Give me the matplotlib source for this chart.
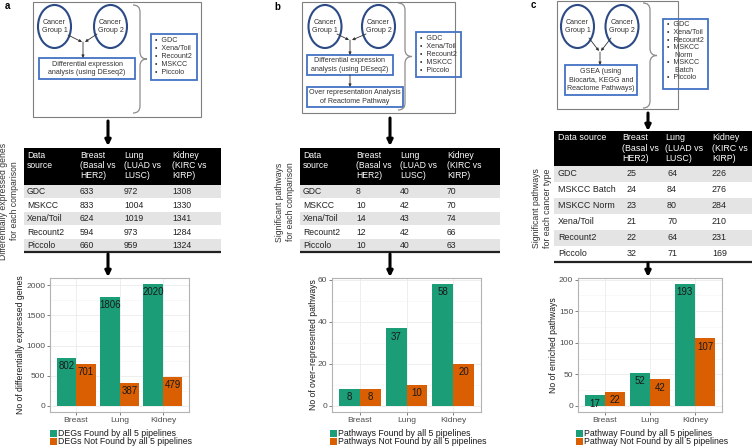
import numpy as np
import matplotlib.pyplot as plt
from matplotlib.patches import Rectangle, Ellipse, PathPatch
from matplotlib.path import Path

plt.rcParams['font.family'] = ['Liberation Sans', 'DejaVu Sans']

GREEN = '#1b9e77'
ORANGE = '#d95f02'

# ---- data ----
cancers = ['Breast', 'Lung', 'Kidney']
header_cols = ['Breast\n(Basal vs\nHER2)', 'Lung\n(LUAD vs\nLUSC)', 'Kidney\n(KIRC vs\nKIRP)']

ab_pipelines = ['GDC', 'Xena/Toil', 'Recount2', 'MSKCC', 'Piccolo']
c_pipelines = ['GDC', 'Xena/Toil', 'Recount2', 'MSKCC\n    Norm', 'MSKCC\n    Batch', 'Piccolo']

a_sources = ['GDC', 'MSKCC', 'Xena/Toil', 'Recount2', 'Piccolo']
a_breast = [633, 833, 624, 594, 660]
a_lung = [972, 1004, 1019, 973, 959]
a_kidney = [1308, 1330, 1341, 1284, 1324]
a_found = [802, 1806, 2020]
a_not_found = [701, 387, 479]

b_sources = ['GDC', 'MSKCC', 'Xena/Toil', 'Recount2', 'Piccolo']
b_breast = [8, 10, 14, 12, 10]
b_lung = [40, 42, 43, 42, 40]
b_kidney = [70, 70, 74, 66, 63]
b_found = [8, 37, 58]
b_not_found = [8, 10, 20]

c_sources = ['GDC', 'MSKCC Batch', 'MSKCC Norm', 'Xena/Toil', 'Recount2', 'Piccolo']
c_breast = [25, 24, 23, 21, 22, 32]
c_lung = [64, 84, 80, 70, 64, 71]
c_kidney = [226, 276, 284, 210, 231, 169]
c_found = [17, 52, 193]
c_not_found = [22, 42, 107]

W, H = 755, 448
fig = plt.figure(figsize=(W / 100, H / 100), dpi=100)
ov = fig.add_axes([0, 0, 1, 1])
ov.set_xlim(0, W)
ov.set_ylim(H, 0)
ov.axis('off')

FLOW_FS = 5.1
BLUE_BOX = '#4472c4'
NAVY = '#2c4a85'


def rect(x0, y0, x1, y1, ec, lw=1.0, fc='none'):
    ov.add_patch(Rectangle((x0, y0), x1 - x0, y1 - y0, fc=fc, ec=ec, lw=lw))


def ellipse(cx, cy, text):
    ov.add_patch(Ellipse((cx, cy), 33, 43, fc='white', ec=NAVY, lw=1.5))
    ov.text(cx, cy, text, ha='center', va='center', fontsize=FLOW_FS,
            color='#333333', linespacing=1.3)


def small_arrow(x0, y0, x1, y1):
    ov.annotate('', xy=(x1, y1), xytext=(x0, y0),
                arrowprops=dict(arrowstyle='-|>', color='#333333', lw=0.6,
                                mutation_scale=4, shrinkA=0, shrinkB=0))


def big_arrow(x, y0, y1):
    ov.annotate('', xy=(x, y1), xytext=(x, y0),
                arrowprops=dict(arrowstyle='-|>', color='black', lw=2.2,
                                mutation_scale=8, shrinkA=0, shrinkB=0))


def brace(x, y0, y1, w, color='#8c8c8c'):
    ym = (y0 + y1) / 2
    xm = x + w / 2
    r = w / 2
    verts = [(x, y0), (xm, y0), (xm, y0 + r), (xm, ym - r), (xm, ym),
             (x + w, ym), (xm, ym), (xm, ym + r), (xm, y1 - r), (xm, y1), (x, y1)]
    codes = [Path.MOVETO, Path.CURVE3, Path.CURVE3, Path.LINETO, Path.CURVE3,
             Path.CURVE3, Path.CURVE3, Path.CURVE3, Path.LINETO, Path.CURVE3, Path.CURVE3]
    ov.add_patch(PathPatch(Path(verts, codes), fc='none', ec=color, lw=0.9))


def pipeline_list(x0, y0, x1, y1, items, y_first, step):
    rect(x0, y0, x1, y1, BLUE_BOX, lw=1.3)
    y = y_first
    for it in items:
        ov.text(x0 + 4, y, '•  ' + it, ha='left', va='top', fontsize=FLOW_FS,
                color='#333333', linespacing=1.2)
        y += step * (it.count('\n') + 1)


def table(x0, x1, yh0, yh1, row_h, sources, cols, col_x, val_x, first_header, head_pad, fs=6.2):
    rect(x0, yh0, x1, yh1, 'black', lw=0, fc='black')
    ov.text(col_x[0], yh0 + head_pad, first_header, ha='left', va='top', color='white',
            fontsize=fs, linespacing=1.2)
    for cx, hd in zip(col_x[1:], header_cols):
        ov.text(cx, yh0 + head_pad, hd, ha='left', va='top', color='white',
                fontsize=fs, linespacing=1.2)
    for i, src in enumerate(sources):
        yt = yh1 + i * row_h
        rect(x0, yt, x1, yt + row_h, 'none', lw=0, fc='#e4e4e4' if i % 2 == 0 else 'white')
        yc = yt + row_h / 2
        ov.text(col_x[0], yc, src, ha='left', va='center', fontsize=fs, color='#222222')
        for vx, col in zip(val_x, cols):
            ov.text(vx, yc, str(col[i]), ha='left', va='center', fontsize=fs, color='#222222')
    yb = yh1 + len(sources) * row_h
    ov.plot([x0, x1], [yb, yb], color='#222222', lw=1.6, solid_capstyle='butt')


def bars(x0, x1, found, not_found, step, minor, ylabel, ylab_x, leg_x, leg_labels):
    y0, y1 = 278, 412
    ax = fig.add_axes([x0 / W, 1 - y1 / H, (x1 - x0) / W, (y1 - y0) / H])
    idx = np.arange(1, len(cancers) + 1)
    ax.bar(idx - 0.225, found, 0.45, color=GREEN, zorder=2)
    ax.bar(idx + 0.225, not_found, 0.45, color=ORANGE, zorder=2)
    for xi, v in zip(idx - 0.225, found):
        ax.annotate(str(v), (xi, v), xytext=(0, -6), textcoords='offset points',
                    ha='center', va='center', fontsize=7, color='#1a1a1a', zorder=3)
    for xi, v in zip(idx + 0.225, not_found):
        ax.annotate(str(v), (xi, v), xytext=(0, -6), textcoords='offset points',
                    ha='center', va='center', fontsize=7, color='#1a1a1a', zorder=3)
    top = max(max(found), max(not_found))
    ax.set_xlim(0.4, 3.6)
    ax.set_ylim(-0.05 * top, 1.05 * top)
    ax.set_xticks(idx)
    ax.set_xticklabels(cancers)
    ax.set_yticks(np.arange(0, 1.05 * top, step))
    ax.set_yticks(np.arange(minor, 1.05 * top, step), minor=True)
    ax.grid(which='major', color='#ebebeb', lw=0.6)
    ax.grid(which='minor', axis='y', color='#f4f4f4', lw=0.4)
    ax.set_axisbelow(True)
    ax.tick_params(which='major', length=2, width=0.5, color='#4d4d4d',
                   labelsize=6.1, labelcolor='#4d4d4d', pad=1.5)
    ax.tick_params(which='minor', length=0)
    for s in ax.spines.values():
        s.set_color('#b3b3b3')
        s.set_linewidth(0.8)
    ov.text(ylab_x, (y0 + y1) / 2, ylabel, rotation=90, ha='center', va='center',
            fontsize=6.2, color='#1a1a1a')
    for k, (lab, colr) in enumerate(zip(leg_labels, [GREEN, ORANGE])):
        yk = 430 + k * 7.7
        rect(leg_x, yk, leg_x + 7, yk + 7.5, 'none', lw=0, fc=colr)
        ov.text(leg_x + 8.5, yk + 4, lab, ha='left', va='center', fontsize=6.3, color='#1a1a1a')
    return ax


# ---------------- panel a ----------------
ov.text(7, 6, 'a', fontsize=7, fontweight='bold', ha='center', va='center')
rect(33, 2, 201, 117, '#7f7f7f', lw=0.8)
small_arrow(68, 35, 82, 42)
small_arrow(97, 34, 85, 42)
small_arrow(83, 42, 83, 58)
ellipse(54.5, 26.5, 'Cancer\nGroup 1')
ellipse(110.5, 26.5, 'Cancer\nGroup 2')
rect(39, 58, 135, 79, BLUE_BOX, lw=1.3)
ov.text(87, 68.5, 'Differential expression\nanalysis (using DEseq2)', ha='center', va='center',
        fontsize=FLOW_FS, color='#333333', linespacing=1.3)
brace(133, 5, 113, 14)
pipeline_list(151, 34, 197, 80, ab_pipelines, 37.5, 8)
big_arrow(108, 121, 146)
table(24, 221, 148, 185, 13.5, a_sources, [a_breast, a_lung, a_kidney],
      [27, 80, 124, 172], [80, 124, 172], 'Data\nsource', 2.5)
ov.text(9, 201, 'Differentially expressed genes\nfor each comparison', rotation=90,
        ha='center', va='center', fontsize=6.2, color='#333333', linespacing=1.15)
big_arrow(108, 254, 277)
bars(50, 189, a_found, a_not_found, 500, 250, 'No of differentially expressed genes', 20.5, 50,
     ['DEGs Found by all 5 pipelines', 'DEGs Not Found by all 5 pipelines'])

# ---------------- panel b ----------------
ov.text(277, 7, 'b', fontsize=7, fontweight='bold', ha='center', va='center')
rect(302, 2, 455, 113, '#7f7f7f', lw=0.8)
small_arrow(337, 34, 349, 40)
small_arrow(366, 34, 352, 40)
small_arrow(350, 40, 350, 55)
small_arrow(350, 75, 350, 87)
ellipse(325, 26.5, 'Cancer\nGroup 1')
ellipse(378.5, 26.5, 'Cancer\nGroup 2')
rect(307, 55, 393, 75, BLUE_BOX, lw=1.3)
ov.text(350, 65, 'Differential expression\nanalysis (using DEseq2)', ha='center', va='center',
        fontsize=FLOW_FS, color='#333333', linespacing=1.3)
rect(307, 87, 403, 107, BLUE_BOX, lw=1.3)
ov.text(355, 97, 'Over representation Analysis\nof Reactome Pathway', ha='center', va='center',
        fontsize=FLOW_FS, color='#333333', linespacing=1.3)
brace(398, 3, 110, 14)
pipeline_list(416, 32, 461, 77, ab_pipelines, 35.5, 8)
big_arrow(390, 118, 146)
table(300, 500, 148, 185, 13.5, b_sources, [b_breast, b_lung, b_kidney],
      [303, 356, 400, 447], [356, 400, 447], 'Data\nsource', 2.5)
ov.text(285, 202, 'Significant pathways\nfor each comparison', rotation=90,
        ha='center', va='center', fontsize=6.2, color='#333333', linespacing=1.15)
big_arrow(390, 254, 277)
bars(332, 481, b_found, b_not_found, 20, 10, 'No of over\u2212represented pathways', 313, 330,
     ['Pathways Found by all 5 pipelines', 'Pathways Not Found by all 5 pipelines'])

# ---------------- panel c ----------------
ov.text(533, 5, 'c', fontsize=7, fontweight='bold', ha='center', va='center')
rect(557, 1, 678, 109, '#7f7f7f', lw=0.8)
small_arrow(589, 38, 599, 51)
small_arrow(611, 38, 601, 51)
small_arrow(600, 52, 600, 65)
ellipse(577.5, 26.5, 'Cancer\nGroup 1')
ellipse(622, 26.5, 'Cancer\nGroup 2')
rect(565, 65, 637, 95, BLUE_BOX, lw=1.3)
ov.text(601, 80, 'GSEA (using\nBiocarta, KEGG and\nReactome Pathways)', ha='center', va='center',
        fontsize=FLOW_FS, color='#333333', linespacing=1.3)
brace(643, 3, 108, 14)
pipeline_list(663, 19, 708, 89, c_pipelines, 21.5, 7.5)
big_arrow(648, 113, 131)
table(554, 752, 131, 166, 16, c_sources, [c_breast, c_lung, c_kidney],
      [558, 622, 665, 712], [627, 667, 712], 'Data source', 2.5, fs=6.4)
ov.text(542, 208, 'Significant pathways\nfor each cancer type', rotation=90,
        ha='center', va='center', fontsize=6.3, color='#333333', linespacing=1.15)
big_arrow(648, 263, 277)
bars(578, 722, c_found, c_not_found, 50, 25, 'No of enriched pathways', 554, 576,
     ['Pathway Found by all 5 pipelines', 'Pathway Not Found by all 5 pipelines'])

fig.savefig('out.png', dpi=100)
